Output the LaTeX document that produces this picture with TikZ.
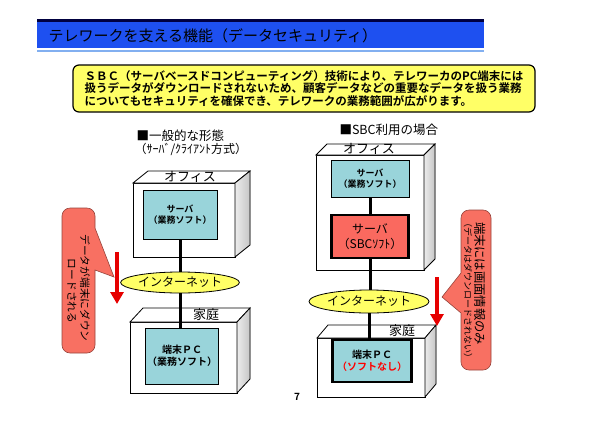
\documentclass[tikz,border=0pt]{standalone}
\usepackage{fontspec}
\setmainfont{Noto Sans CJK JP}[BoldFont={Noto Sans CJK JP Bold}]
\usetikzlibrary{arrows.meta,shapes.geometric}

\definecolor{navyband}{RGB}{0,0,64}
\definecolor{titleblue}{RGB}{30,80,240}
\definecolor{lineblue}{RGB}{130,175,240}
\definecolor{infoyellow}{RGB}{255,255,102}
\definecolor{softcyan}{RGB}{153,212,218}
\definecolor{sbcred}{RGB}{250,105,95}
\definecolor{calloutred}{RGB}{248,112,98}
\definecolor{arrowred}{RGB}{230,0,0}

\tikzset{
  boxface/.style={draw=black, fill=white, line width=0.8pt},
  boxside/.style={draw=black, left color=gray!15, right color=gray!45, line width=0.8pt},
  boxlabel/.style={font=\fontsize{13}{13}\selectfont, inner sep=0pt},
  softbox/.style={draw=black, fill=softcyan, line width=0.8pt, align=center, inner sep=0pt,
    font=\bfseries\fontsize{9}{11}\selectfont},
  sbcbox/.style={draw=black, fill=sbcred, line width=2.5pt, align=center, inner sep=0pt,
    font=\fontsize{12}{15}\selectfont},
  netoval/.style={ellipse, draw=black, fill=infoyellow, line width=0.8pt, inner sep=0pt,
    font=\fontsize{12}{12}\selectfont},
  infobox/.style={draw=black, fill=infoyellow, line width=1.2pt, rounded corners=6pt, align=left,
    minimum width=462pt, minimum height=47pt, font=\bfseries\fontsize{11.5}{12.5}\selectfont},
  link/.style={line width=3pt},
  dlarrow/.style={draw=arrowred, line width=4pt, -{Triangle[width=13pt,length=12pt]}},
  callout/.style={fill=calloutred, draw=calloutred!60!black, line width=0.6pt},
}

\begin{document}
\begin{tikzpicture}[x=1pt,y=-1pt]
  \useasboundingbox (0,0) rectangle (600,424);

  % Title bar
  \fill[navyband] (37,19) rectangle (484,22);
  \fill[titleblue] (37,22) rectangle (484,48);
  \fill[lineblue] (37,49.5) rectangle (484,52);
  \node[anchor=west, font=\fontsize{15}{15}\selectfont] (title) at (45,36)
    {テレワークを支える機能（データセキュリティ）};

  % Summary
  \node[infobox] (info) at (304,88.5)
    {ＳＢＣ（サーバベースドコンピューティング）技術により、テレワーカのPC端末には\\
     扱うデータがダウンロードされないため、顧客データなどの重要なデータを扱う業務\\
     についてもセキュリティを確保でき、テレワークの業務範囲が広がります。};

  % Headings
  \node[anchor=west, font=\fontsize{12.5}{12.5}\selectfont] (lhead) at (133,136) {■一般的な形態};
  \node[anchor=west, font=\fontsize{12}{12}\selectfont] (lsub) at (131,149) {（ｻｰﾊﾞ/ｸﾗｲｱﾝﾄ方式）};
  \node[anchor=west, font=\fontsize{12.5}{12.5}\selectfont] (rhead) at (336,130) {■SBC利用の場合};

  % Draw boxes
  \foreach \xa/\ya/\xb/\yb/\dx/\dy in {133/183/235/257/15/12, 130/322/237/393/13/14,
                                       316/155/424/270/11/11, 317/338/425/397/11/13} {
    \filldraw[boxface] (\xa,\ya) rectangle (\xb,\yb);
    \filldraw[boxface] (\xa,\ya) -- ++(\dx,-\dy) -- (\xb+\dx,\ya-\dy) -- (\xb,\ya) -- cycle;
    \filldraw[boxside] (\xb,\ya) -- (\xb+\dx,\ya-\dy) -- (\xb+\dx,\yb-\dy) -- (\xb,\yb) -- cycle;
  }
  \node[boxlabel] (loffice) at (190,177) {オフィス};
  \node[boxlabel] (lhome) at (206,315) {家庭};
  \node[boxlabel] (roffice) at (369,149) {オフィス};
  \node[boxlabel] (rhome) at (402,331) {家庭};

  % Left: client/server
  \node[softbox, minimum width=74pt, minimum height=49pt] (lsrv) at (180,214.5) {サーバ\\（業務ソフト）};
  \node[netoval, minimum width=112pt, minimum height=21pt] (lnet) at (180,282.5) {インターネット};
  \node[softbox, minimum width=73pt, minimum height=56pt, font=\bfseries\fontsize{10}{12}\selectfont]
    (lpc) at (182,356) {端末ＰＣ\\（業務ソフト）};
  \draw[link] (lsrv.south) -- (lsrv.south |- lnet.north);
  \draw[link] (lnet.south) -- (lnet.south |- lpc.north);

  % Right: SBC
  \node[softbox, minimum width=78pt, minimum height=37pt] (rsrv) at (370,178.5) {サーバ\\（業務ソフト）};
  \node[sbcbox, minimum width=77pt, minimum height=43pt] (rsbc) at (370,236.5) {サーバ\\（SBCｿﾌﾄ）};
  \node[netoval, minimum width=120pt, minimum height=23pt] (rnet) at (369,301.5) {インターネット};
  \node[softbox, line width=2.5pt, minimum width=79pt, minimum height=42pt,
    font=\bfseries\fontsize{10}{12}\selectfont] (rpc) at (372,361) {端末ＰＣ\\\textcolor{red}{（ソフトなし）}};
  \draw[link] (rsrv.south) -- (rsrv.south |- rsbc.north);
  \draw[link] (rsbc.south) -- (rsbc.south |- rnet.north);
  \draw[link] (rnet.south) -- (rnet.south |- rpc.north);

  % Download arrows
  \coordinate (ltop) at (117,252);
  \coordinate (lbot) at (117,304);
  \draw[dlarrow] (ltop) -- (lbot);
  \coordinate (rtop) at (437,277);
  \coordinate (rbot) at (437,326);
  \draw[dlarrow] (rtop) -- (rbot);

  % Callouts
  \filldraw[callout, rounded corners=8pt] (62,208) -- (95,208)
    [sharp corners] -- (95,228) -- (114,277) -- (95,270)
    [rounded corners=8pt] -- (95,353) -- (62,353) -- cycle;
  \node[rotate=-90, font=\fontsize{10.7}{10.7}\selectfont] (lcall1) at (85,288) {データが端末にダウン};
  \node[rotate=-90, font=\fontsize{10.7}{10.7}\selectfont] (lcall2) at (72,291) {ロードされる};

  \filldraw[callout, rounded corners=8pt] (491,210) -- (491,370) -- (461,370)
    [sharp corners] -- (461,313) -- (442,297) -- (461,273)
    [rounded corners=8pt] -- (461,210) -- cycle;
  \node[rotate=-90, font=\fontsize{12.3}{12.3}\selectfont] (rcall1) at (480,283.5) {端末には画面情報のみ};
  \node[rotate=-90, font=\fontsize{9}{9}\selectfont] (rcall2) at (468,290.5) {（データはダウンロードされない）};

  % Page number
  \node[font=\bfseries\fontsize{10}{10}\selectfont] (page) at (297,397) {7};
\end{tikzpicture}
\end{document}
